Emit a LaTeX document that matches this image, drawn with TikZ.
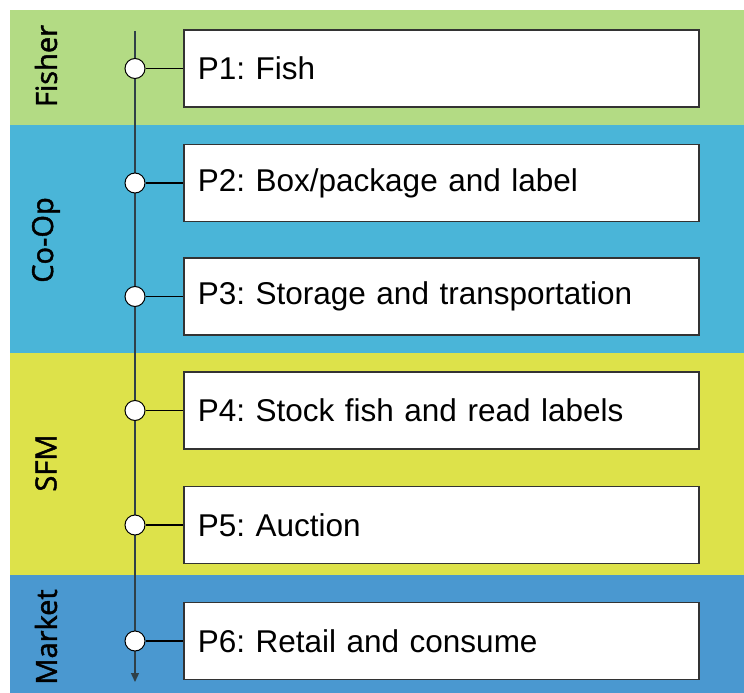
\documentclass[tikz,border=0pt]{standalone}
\usepackage{fontspec}
\setmainfont{Liberation Sans}
\newfontfamily\bandfont{Open Sans}[FakeBold=1.6]
\usetikzlibrary{arrows.meta}
\definecolor{fishergreen}{HTML}{B3DB84}
\definecolor{coopblue}{HTML}{4AB5D8}
\definecolor{sfmyellow}{HTML}{DDE24A}
\definecolor{marketblue}{HTML}{4A98D0}
\definecolor{spinecol}{HTML}{2F4048}
\definecolor{boxborder}{HTML}{333333}
\begin{document}
\frenchspacing
\begin{tikzpicture}[x=1pt,y=-1pt,
  bandlabel/.style={rotate=90,font=\bandfont\fontsize{29}{32}\selectfont,text=black,inner sep=0pt},
  stepbox/.style={draw=boxborder,line width=1.8pt,fill=white,minimum height=77pt,text width=487pt,inner xsep=14pt,align=left,font=\fontsize{31.5}{34}\selectfont,anchor=west},
  dot/.style={circle,draw=black,line width=1pt,fill=white,minimum size=20pt,inner sep=0pt},
  spine/.style={draw=spinecol,line width=1.4pt},
  link/.style={draw=black,line width=1.3pt}]
\useasboundingbox (0,0) rectangle (744,693);
\fill[fishergreen] (10,10) rectangle (744,125);
\fill[coopblue] (10,125) rectangle (744,353);
\fill[sfmyellow] (10,353) rectangle (744,575);
\fill[marketblue] (10,575) rectangle (744,693);
\node[bandlabel] (lfisher) at (46,66) {Fisher};
\node[bandlabel] (lcoop) at (46,240) {Co-Op};
\node[bandlabel] (lsfm) at (46,463) {SFM};
\node[bandlabel] (lmarket) at (46,637) {Market};
\coordinate (top) at (135,31);
\coordinate (bot) at (135,682);
\draw[spine,-{Triangle[width=8pt,length=9pt]}] (top) -- (bot);
\foreach \i/\y/\t in {1/68.5/{P1: Fish},2/183/{P2: Box/package and label},3/296.5/{P3: Storage and transportation},4/410.5/{P4: Stock fish and read labels},5/525/{P5: Auction},6/641/{P6: Retail and consume}}{
  \node[stepbox] (b\i) at (183,\y) {\t};
  \node[dot] (c\i) at (135,\y) {};
  \draw[link] (c\i) -- (b\i);
}
\end{tikzpicture}
\end{document}
